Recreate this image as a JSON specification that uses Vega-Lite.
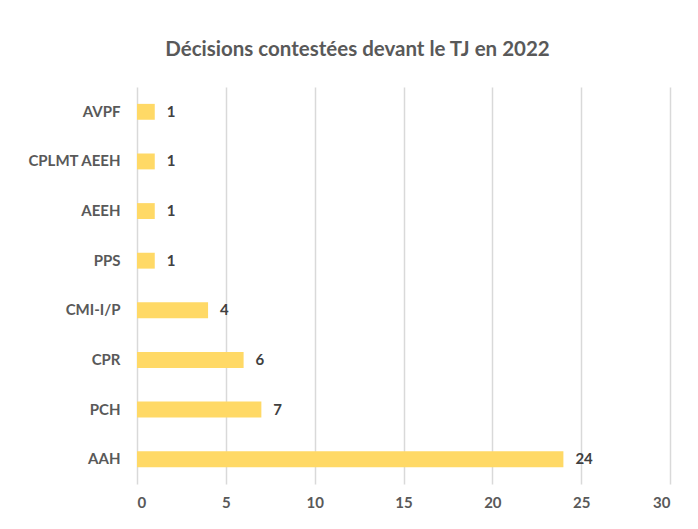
{
  "$schema": "https://vega.github.io/schema/vega-lite/v6.json",
  "width": 533,
  "height": 397,
  "autosize": {"type": "none"},
  "padding": {"left": 137, "top": 87, "right": 28, "bottom": 45},
  "background": "white",
  "title": {
    "text": "Décisions contestées devant le TJ en 2022",
    "font": "Lato",
    "fontSize": 20.5,
    "fontWeight": "bold",
    "color": "#595959",
    "anchor": "middle",
    "dx": -46,
    "offset": 27
  },
  "data": {
    "values": [
      {"cat": "AVPF", "n": 1},
      {"cat": "CPLMT AEEH", "n": 1},
      {"cat": "AEEH", "n": 1},
      {"cat": "PPS", "n": 1},
      {"cat": "CMI-I/P", "n": 4},
      {"cat": "CPR", "n": 6},
      {"cat": "PCH", "n": 7},
      {"cat": "AAH", "n": 24}
    ]
  },
  "encoding": {
    "y": {
      "field": "cat",
      "type": "nominal",
      "sort": null,
      "scale": {"paddingInner": 0.68, "paddingOuter": 0.34},
      "axis": {
        "title": null,
        "domain": false,
        "ticks": false,
        "labelFont": "Lato",
        "labelFontSize": 15,
        "labelFontWeight": "bold",
        "labelColor": "#595959",
        "labelPadding": 17
      }
    },
    "x": {
      "field": "n",
      "type": "quantitative",
      "scale": {"domain": [0, 30]},
      "axis": {
        "title": null,
        "values": [0, 5, 10, 15, 20, 25, 30],
        "domain": false,
        "ticks": false,
        "grid": true,
        "gridColor": "#D9D9D9",
        "gridWidth": 1.5,
        "labelFont": "Lato",
        "labelFontSize": 15,
        "labelFontWeight": "bold",
        "labelColor": "#595959",
        "labelPadding": 11
      }
    }
  },
  "layer": [
    {"mark": {"type": "bar", "color": "#FFD966"}},
    {
      "mark": {
        "type": "text",
        "align": "left",
        "dx": 12,
        "font": "Lato",
        "fontSize": 15,
        "fontWeight": "bold",
        "color": "#404040"
      },
      "encoding": {"text": {"field": "n", "type": "quantitative"}}
    }
  ],
  "config": {"view": {"stroke": null}}
}
